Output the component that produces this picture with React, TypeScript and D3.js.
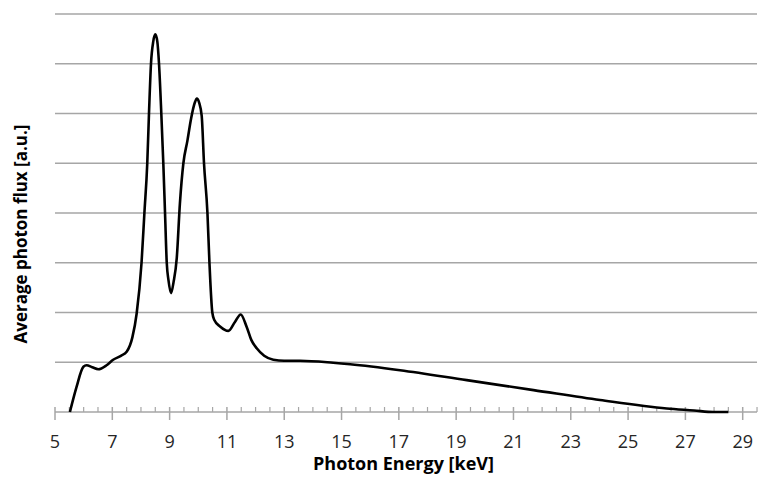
import React from "react";
import * as d3 from "d3";

// Photon energy (keV) and average flux (a.u.)
const energy = [
  5.52, 5.75, 5.99, 6.1, 6.3, 6.51, 6.8, 7.03, 7.3, 7.5, 7.7, 7.85, 8.02, 8.12, 8.22, 8.28, 8.35,
  8.43, 8.5, 8.57, 8.63, 8.71, 8.78, 8.84, 8.9, 8.96, 9.05, 9.14, 9.25, 9.36, 9.48, 9.62, 9.75,
  9.88, 9.95, 10.03, 10.12, 10.2, 10.32, 10.39, 10.49, 10.56, 10.76, 11.05, 11.28, 11.48, 11.69,
  11.85, 12.04, 12.3, 12.62, 13.0, 13.55, 14.71, 15.3, 17.04, 19.37, 21.7, 24.02, 26.35, 27.3,
  27.98, 28.5,
];
const flux = [
  0, 0.5, 0.91, 0.94, 0.9, 0.86, 0.94, 1.05, 1.13, 1.21, 1.5, 1.98, 3.0, 4.0, 5.0, 6.0, 7.0,
  7.45, 7.59, 7.45, 7.0, 6.0, 5.0, 4.0, 3.0, 2.65, 2.39, 2.62, 3.1, 4.2, 5.0, 5.45, 5.9,
  6.22, 6.3, 6.22, 5.95, 5.0, 4.0, 3.0, 2.0, 1.85, 1.72, 1.63, 1.81, 1.96, 1.71,
  1.45, 1.28, 1.13, 1.05, 1.03, 1.03, 0.99, 0.96, 0.84, 0.64, 0.44, 0.24, 0.07, 0.03,
  0.0, 0,
];
const xTicks = [5, 7, 9, 11, 13, 15, 17, 19, 21, 23, 25, 27, 29];
const yGrid = [1, 2, 3, 4, 5, 6, 7, 8];

const W = 763;
const H = 478;

export default function App() {
  const x = d3.scaleLinear().domain([5, 29]).range([55, 742.7]);
  const y = d3.scaleLinear().domain([0, 8]).range([412, 14]);
  const xEnd = x(29.5);

  const minor = d3.range(5, 29.51, 0.5).filter((v) => Math.abs(v % 2 - 1) > 1e-6);
  const pts: [number, number][] = energy.map((e, i) => [x(e), y(flux[i])]);
  const line = d3.line().curve(d3.curveMonotoneX)(pts) ?? "";

  const gridColor = "#a6a6a6";
  const font = "'Open Sans', sans-serif";

  return (
    <svg width={W} height={H} style={{ position: "absolute", left: 0, top: 0 }}>
      <rect width={W} height={H} fill="#fff" />
      {yGrid.map((g) => (
        <line key={g} x1={55} x2={xEnd} y1={y(g)} y2={y(g)} stroke={gridColor} strokeWidth={1.5} />
      ))}
      <line x1={55} x2={xEnd} y1={y(0)} y2={y(0)} stroke={gridColor} strokeWidth={1.5} />
      {xTicks.map((t) => (
        <g key={t}>
          <line x1={x(t)} x2={x(t)} y1={407} y2={420} stroke={gridColor} strokeWidth={1.5} />
          <text
            x={x(t)}
            y={448}
            textAnchor="middle"
            fontFamily={font}
            fontSize={18}
            fill="#262626"
          >
            {t}
          </text>
        </g>
      ))}
      {minor.map((t) => (
        <line key={t} x1={x(t)} x2={x(t)} y1={407} y2={412} stroke={gridColor} strokeWidth={1.2} />
      ))}
      <path d={line} fill="none" stroke="#000" strokeWidth={2.6} strokeLinejoin="round" />
      <text
        x={403.5}
        y={470}
        textAnchor="middle"
        fontFamily={font}
        fontWeight="bold"
        fontSize={18}
        fill="#000"
      >
        Photon Energy [keV]
      </text>
      <text
        transform={`translate(27,234) rotate(-90)`}
        textAnchor="middle"
        fontFamily={font}
        fontWeight="bold"
        fontSize={17}
        fill="#000"
      >
        Average photon flux [a.u.]
      </text>
    </svg>
  );
}
